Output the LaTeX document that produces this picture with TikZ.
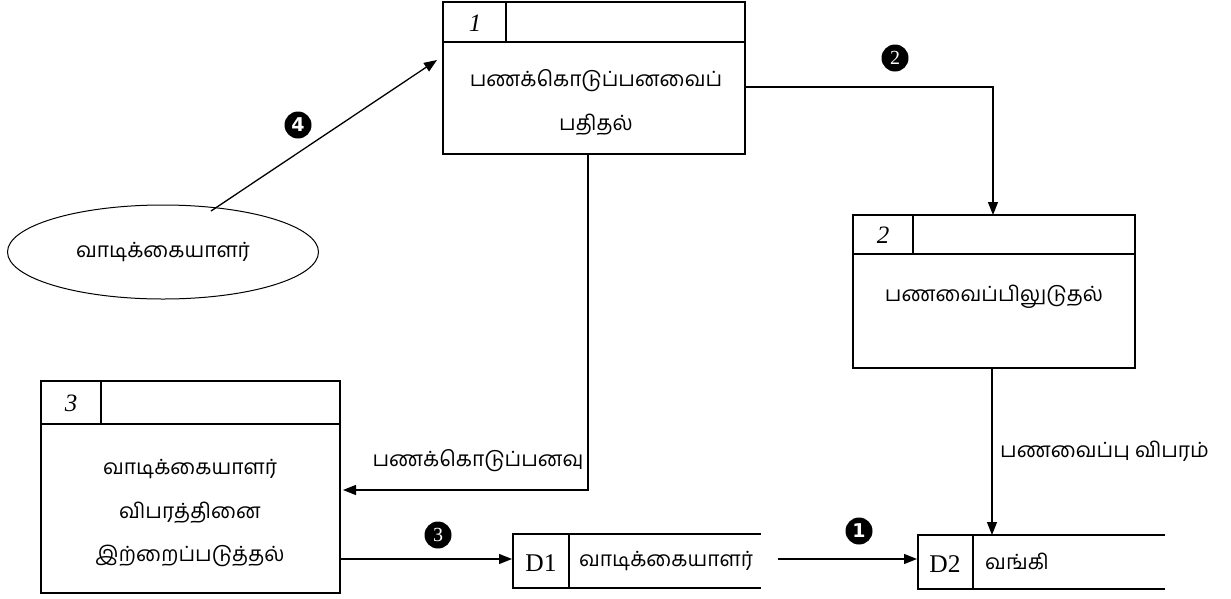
\documentclass[tikz,border=0pt]{standalone}
\usepackage{fontspec}
\setmainfont{Liberation Serif}
\newfontfamily\tam[Script=Tamil]{Hind Madurai}
\newfontfamily\djvsans{DejaVu Sans}
\usetikzlibrary{arrows.meta,shapes.geometric}
\begin{document}
\begin{tikzpicture}[x=1pt,y=-1pt,
  ln/.style={line width=1.3pt},
  arr/.style={ln,-{Triangle[length=13pt,width=10pt]}},
  tt/.style={font=\tam\fontsize{21}{24}\selectfont, inner sep=0pt},
  hn/.style={font=\itshape\fontsize{25}{27}\selectfont, inner sep=0pt},
  dn/.style={font=\fontsize{25.5}{27}\selectfont, inner sep=0pt},
  bnum/.style={circle, fill=black, text=white, minimum size=27pt, inner sep=0pt}]
\useasboundingbox (0,0) rectangle (1231,598);
% Process 1
\draw[ln] (443,2) rectangle (745,154);
\draw[ln] (443,42) -- (745,42) (506,2) -- (506,42);
\node[hn] (n1) at (475,23) {1};
\node[tt, align=center] (p1t) at (596,102) {பணக்கொடுப்பனவைப்\\[20pt]பதிதல்};
\coordinate (p1r) at (745,87);
\coordinate (p1b) at (588,154);
\coordinate (p1l) at (437,60);
% Process 2
\draw[ln] (853,215) rectangle (1135,368);
\draw[ln] (853,254) -- (1135,254) (913,215) -- (913,254);
\node[hn] (n2) at (883,235) {2};
\node[tt] (p2t) at (994,297) {பணவைப்பிலுடுதல்};
\coordinate (p2t0) at (993,215);
\coordinate (p2b) at (992,368);
% Process 3
\draw[ln] (41,381) rectangle (340,593);
\draw[ln] (41,424) -- (340,424) (101,381) -- (101,424);
\node[hn] (n3) at (71,403) {3};
\node[tt, align=center] (p3t) at (190,513) {வாடிக்கையாளர்\\[19.5pt]விபரத்தினை\\[19.5pt]இற்றைப்படுத்தல்};
\coordinate (p3r1) at (343,490);
\coordinate (p3r2) at (340,559);
% Ellipse
\node[ellipse, draw, line width=1pt, minimum width=311pt, minimum height=94pt, tt] (ent) at (163,252) {வாடிக்கையாளர்};
\coordinate (ent0) at (211,211);
% D1
\draw[ln] (761,534) -- (513,534) -- (513,588) -- (761,588);
\draw[ln] (569,534) -- (569,588);
\node[dn] (d1a) at (541,563) {D1};
\node[tt] (d1b) at (666,561) {வாடிக்கையாளர்};
\coordinate (d1l) at (512,559);
\coordinate (d1r) at (778,559);
% D2
\draw[ln] (1165,535) -- (918,535) -- (918,589) -- (1165,589);
\draw[ln] (973,535) -- (973,589);
\node[dn] (d2a) at (945,564) {D2};
\node[tt, anchor=west] (d2b) at (985,561) {வங்கி};
\coordinate (d2l) at (917,559);
\coordinate (d2t) at (992,535);
% Connectors
\draw[arr] (ent0) -- (p1l);
\draw[arr] (p1r) -- (993,87) -- (p2t0);
\draw[arr] (p1b) -- (588,490) -- (p3r1);
\draw[arr] (p2b) -- (d2t);
\draw[arr] (p3r2) -- (d1l);
\draw[arr] (d1r) -- (d2l);
% labels
\node[tt] (l1) at (478,461) {பணக்கொடுப்பனவு};
\node[tt, anchor=west] (l2) at (1000,451) {பணவைப்பு விபரம்};
% numbered circles
\node[bnum, font=\djvsans\bfseries\fontsize{19}{20}\selectfont] (c4) at (298,125) {4};
\node[bnum, font=\fontsize{20}{21}\selectfont] (c2) at (895,58) {2};
\node[bnum, font=\fontsize{20}{21}\selectfont] (c3) at (438,535) {3};
\node[bnum, font=\djvsans\bfseries\fontsize{19}{20}\selectfont] (c1) at (859,531) {1};
\end{tikzpicture}
\end{document}
